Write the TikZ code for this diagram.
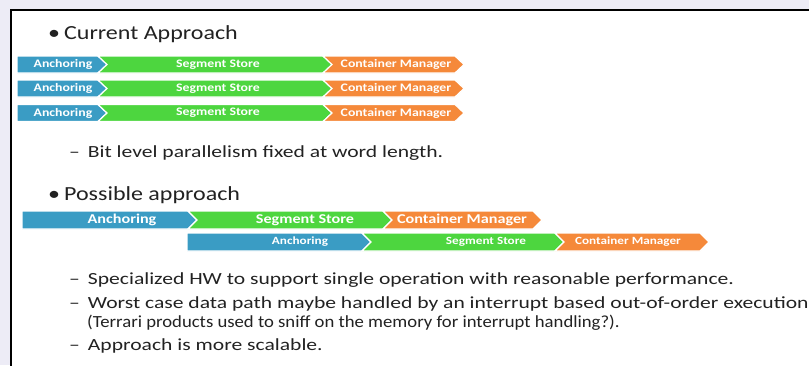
\documentclass[tikz,border=0pt]{standalone}
\usepackage{fontspec}
\setmainfont{Carlito}[FakeStretch=1.2]
\newfontfamily\itemfont{Carlito}[FakeStretch=1.27]
\newfontfamily\notefont{Carlito}[FakeStretch=1.1]

\definecolor{slidebg}{HTML}{EDECF6}
\definecolor{textgray}{HTML}{222222}
\definecolor{anchorblue}{HTML}{3A9CC4}
\definecolor{storegreen}{HTML}{4DD63F}
\definecolor{managerorange}{HTML}{F5893A}

\newcommand{\tipd}{9}
\newcommand{\segh}{8.5}
% #1 name, #2 left, #3 right, #4 middle y, #5 notch, #6 colour, #7 label x, #8 label
\newcommand{\chevron}[8]{%
  \draw[segshape, fill=#6] (#2,#4-\segh) -- (#3,#4-\segh) -- (#3+\tipd,#4)
    -- (#3,#4+\segh) -- (#2,#4+\segh) -- (#2+#5,#4) -- cycle;
  \node[seglabel] (#1) at (#7,#4) {#8};
}

\tikzset{
  segshape/.style={draw=white, line width=1.2pt, line join=miter},
  seglabel/.style={text=white, inner sep=0pt, font=\fontsize{11.5}{13}\selectfont\bfseries},
  heading/.style={anchor=base west, inner sep=0pt, text=textgray, font=\fontsize{20}{24}\selectfont},
  item/.style={anchor=base west, inner sep=0pt, text=textgray, font=\itemfont\fontsize{17}{20}\selectfont},
}

\begin{document}
\begin{tikzpicture}[x=1pt, y=-1pt]
\useasboundingbox (0,0) rectangle (809,365);
\fill[slidebg] (0,0) rectangle (809,365);
\draw[fill=white, line width=2.5pt] (11,10) rectangle (830,380);

\node[heading] (current) at (48,39) {•\hspace{4pt}Current Approach};

\foreach \y [count=\i] in {64.5,88.5,113} {
  \chevron{anc\i}{17}{98}{\y}{0}{anchorblue}{63}{Anchoring}
  \chevron{seg\i}{98}{323}{\y}{\tipd}{storegreen}{218}{Segment Store}
  \chevron{cm\i}{323}{455}{\y}{\tipd}{managerorange}{396}{Container Manager}
}

\node[item] (bitlevel) at (69,157) {–\hspace{8pt}Bit level parallelism fixed at word length.};

\node[heading] (possible) at (48,200) {•\hspace{4pt}Possible approach};

\begin{scope}[seglabel/.append style={font=\fontsize{13.5}{15}\selectfont\bfseries}]
\renewcommand{\segh}{9}
\chevron{ancA}{22}{188}{220}{0}{anchorblue}{122}{Anchoring}
\chevron{segA}{188}{383}{220}{\tipd}{storegreen}{305}{Segment Store}
\chevron{cmA}{383}{533}{220}{\tipd}{managerorange}{462}{Container Manager}
\end{scope}

\begin{scope}[seglabel/.append style={font=\fontsize{11}{13}\selectfont\bfseries}]
\renewcommand{\segh}{9}
\chevron{ancB}{187}{362}{242}{0}{anchorblue}{300}{Anchoring}
\chevron{segB}{362}{555}{242}{\tipd}{storegreen}{486}{Segment Store}
\chevron{cmB}{555}{700}{242}{\tipd}{managerorange}{628}{Container Manager}
\end{scope}

\node[item] (special) at (69,284) {–\hspace{8pt}Specialized HW to support single operation with reasonable performance.};
\node[item] (worst) at (69,308) {–\hspace{8pt}Worst case data path maybe handled by an interrupt based out-of-order execution};
\node[item, font=\notefont\fontsize{17}{20}\selectfont] (terrari) at (87,327) {(Terrari products used to sniff on the memory for interrupt handling?).};
\node[item] (scalable) at (69,350) {–\hspace{8pt}Approach is more scalable.};
\end{tikzpicture}
\end{document}
